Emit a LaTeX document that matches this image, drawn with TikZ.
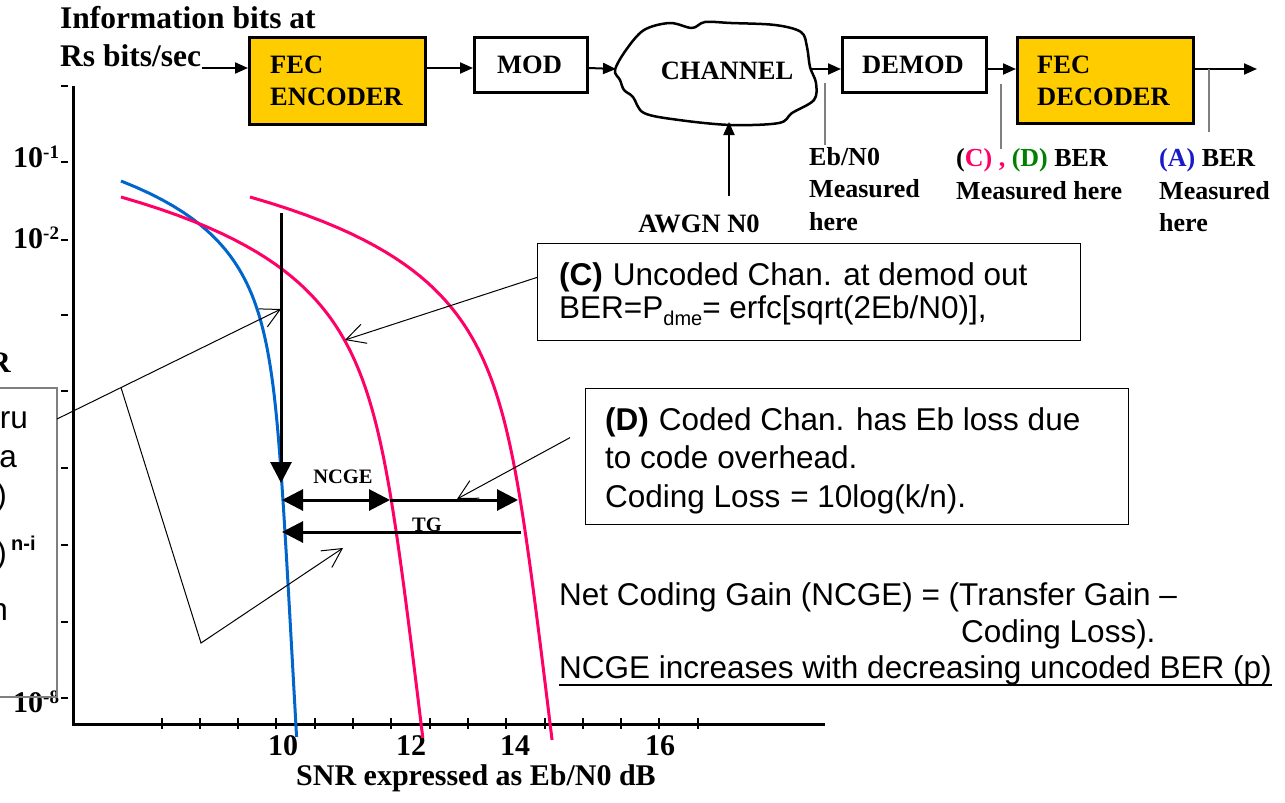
\documentclass[tikz,border=0pt]{standalone}
\usepackage{fontspec}
\setmainfont{Liberation Serif}
\setsansfont{Liberation Sans}
\usetikzlibrary{arrows.meta,calc}
\definecolor{fecy}{HTML}{FFCC00}
\definecolor{bluec}{HTML}{0066CC}
\definecolor{pinkc}{HTML}{FF0066}
\definecolor{greenc}{HTML}{008000}
\definecolor{labblue}{HTML}{1A1AC8}
\definecolor{lgray}{HTML}{7F7F7F}
\begin{document}
\begin{tikzpicture}[x=1pt,y=-1pt,
 blk/.style={draw, line width=2.5pt, inner sep=0pt, anchor=north west},
 blkT/.style={font=\fontsize{26.5}{30}\selectfont\bfseries, inner sep=0pt},
 topT/.style={font=\fontsize{31.5}{36}\selectfont\bfseries, inner sep=0pt, anchor=base west},
 lblT/.style={font=\fontsize{26}{30}\selectfont\bfseries, inner sep=0pt, anchor=base west},
 axT/.style={font=\fontsize{30}{34}\selectfont\bfseries, inner sep=0pt},
 smT/.style={font=\fontsize{20.5}{24}\selectfont\bfseries, inner sep=0pt, anchor=base},
 sansT/.style={font=\sffamily\fontsize{31.5}{36}\selectfont, inner sep=0pt, anchor=base west},
 flow/.style={line width=2pt, -{Triangle[length=13pt,width=11pt]}},
 meas/.style={line width=1.3pt, draw=lgray},
 axisL/.style={line width=3pt},
 curveB/.style={line width=3pt, draw=bluec},
 curveP/.style={line width=3pt, draw=pinkc},
 bigA/.style={line width=3pt, -{Triangle[length=21pt,width=21pt]}},
 bigAA/.style={line width=3pt, {Triangle[length=21pt,width=21pt]}-{Triangle[length=21pt,width=21pt]}},
 ptr/.style={line width=1pt, -{Straight Barb[length=19pt,width=20pt]}},
 cbox/.style={draw, line width=1.3pt, inner sep=0pt, anchor=north west},
]
\useasboundingbox (0,0) rectangle (1285,803);
\clip (0,0) rectangle (1285,803);

% ---------- block diagram ----------
\node[topT] (info1) at (60,28) {Information bits at};
\node[topT] (info2) at (60,66) {Rs bits/sec};

\node[blk, fill=fecy, minimum width=176pt, minimum height=87pt] (enc) at (248,36) {};
\node[blk, minimum width=113pt, minimum height=55pt] (mod) at (473,36) {};
\node[blk, minimum width=144pt, minimum height=55pt] (demod) at (841,36) {};
\node[blk, fill=fecy, minimum width=176pt, minimum height=86pt] (dec) at (1016,36) {};

\node[blkT, anchor=base west] (encA) at (270,73) {FEC};
\node[blkT, anchor=base west] (encB) at (270,105) {ENCODER};
\node[blkT, anchor=base] (modT) at (529.5,73) {MOD};
\node[blkT, anchor=base] (demT) at (913,73) {DEMOD};
\node[blkT, anchor=base west] (decA) at (1037,73) {FEC};
\node[blkT, anchor=base west] (decB) at (1037,105) {DECODER};

% channel cloud
\draw[line width=2.5pt, line join=round] plot[smooth cycle, tension=0.55] coordinates {
 (615,70) (626,50) (644,30) (670,23) (692,28) (705,22) (731,23) (775,25)
 (801,32) (807,47) (810,67) (816,83) (814,100) (792,113) (779,123)
 (731,125) (679,120) (644,113) (633,97) (624,90) (620,80)};
\node[blkT, anchor=base] (chT) at (727,79) {CHANNEL};
\coordinate (chL) at (616,69);
\coordinate (chR) at (810,69);
\coordinate (chB) at (729,122);

\coordinate (src) at (202,68);
\coordinate (out) at (1257,69);
\coordinate (awgn) at (729,196);
\draw[flow] (src) -- (src -| enc.west);
\draw[flow] (enc.east |- src) -- (mod.west |- src);
\draw[flow] (mod.east |- src) -- (chL);
\draw[flow] (chR) -- (chR -| demod.west);
\draw[flow] (demod.east |- chR) -- (dec.west |- chR);
\draw[flow] (dec.east |- out) -- (out);
\draw[flow] (awgn) -- (chB);
\node[blkT, anchor=base] (awgnT) at (699,232) {AWGN N0};

% measurement points
\coordinate (m1t) at (825,83);  \coordinate (m1b) at (825,145);
\coordinate (m2t) at (1001,84); \coordinate (m2b) at (1001,149);
\coordinate (m3t) at (1209,69); \coordinate (m3b) at (1209,132);
\draw[meas] (m1t) -- (m1b);
\draw[meas] (m2t) -- (m2b);
\draw[meas] (m3t) -- (m3b);

\node[lblT] (ebA) at (809,165) {Eb/N0};
\node[lblT] (ebB) at (809,197) {Measured};
\node[lblT] (ebC) at (809,230) {here};
\node[lblT] (cdA) at (956,166) {(\textcolor{pinkc}{C) ,} \textcolor{greenc}{(D)} BER};
\node[lblT] (cdB) at (956,199) {Measured here};
\node[lblT] (aA) at (1159,166) {\textcolor{labblue}{(A)} BER};
\node[lblT] (aB) at (1159,199) {Measured};
\node[lblT] (aC) at (1159,231) {here};

% ---------- graph ----------
\draw[axisL] (73,86) -- (73,724) -- (825,724);
\foreach \yy in {86,162,240,315,391,468,545,622,698}
  \draw[line width=2.5pt] (61,\yy) -- (68,\yy);
\foreach \i in {0,...,14}
  \draw[line width=2pt] ({161.5+38.3*\i},718) -- ({161.5+38.3*\i},729);

\node[axT, anchor=base west] (y1) at (13,167) {10\raisebox{9pt}{\fontsize{19}{20}\selectfont -1}};
\node[axT, anchor=base west] (y2) at (13,248) {10\raisebox{9pt}{\fontsize{19}{20}\selectfont -2}};
\node[axT, anchor=base west] (y8) at (13,712) {10\raisebox{9pt}{\fontsize{19}{20}\selectfont -8}};

\node[axT, anchor=base] (x10) at (283,755) {10};
\node[axT, anchor=base] (x12) at (411,755) {12};
\node[axT, anchor=base] (x14) at (515,755) {14};
\node[axT, anchor=base] (x16) at (660,755) {16};
\node[axT, anchor=base] (xlab) at (476,785) {SNR expressed as Eb/N0 dB};

% curves
\draw[curveB] plot[domain=181:737, samples=90, variable=\t]
  ({121+145*(1-exp(-(\t-181)/58))+0.055*(\t-181)}, {\t});
\draw[curveP] plot[domain=197:738, samples=90, variable=\t]
  ({121+237*(1-exp(-(\t-197)/70))+0.12*(\t-197)}, {\t});
\draw[curveP] plot[domain=197:740, samples=90, variable=\t]
  ({250+237*(1-exp(-(\t-197)/70))+0.12*(\t-197)}, {\t});

% gain arrows
\coordinate (vt) at (281,213); \coordinate (vb) at (281,483);
\coordinate (nL) at (282,500); \coordinate (nM) at (390,500); \coordinate (nR) at (518,500);
\coordinate (tR) at (521,532); \coordinate (tL) at (282,532);
\draw[bigA] (vt) -- (vb);
\draw[bigAA] (nL) -- (nM);
\draw[bigA] (nM) -- (nR);
\draw[bigA] (tR) -- (tL);
\node[smT] (ncgeT) at (343,483) {NCGE};
\node[smT] (tgT) at (427,531) {TG};

% ---------- callouts ----------
\node[cbox, minimum width=543pt, minimum height=97pt] (boxC) at (537,243) {};
\node[sansT] (cT1) at (559,285) {\textbf{(C)}\hspace{10pt}Uncoded Chan. at demod out};
\node[sansT] (cT2) at (559,318) {BER=P\raisebox{-7pt}{\fontsize{20}{20}\selectfont dme}= erfc[sqrt(2Eb/N0)],};
\coordinate (cS) at ($(boxC.north west)!0.35!(boxC.south west)$);
\coordinate (cP) at (345,340);
\draw[ptr] (cS) -- (cP);

\node[cbox, minimum width=543pt, minimum height=136pt] (boxD) at (585,388) {};
\node[sansT] (dT1) at (605,430) {\textbf{(D)}\hspace{10pt}Coded Chan. has Eb loss due};
\node[sansT] (dT2) at (605,468) {to code overhead.};
\node[sansT] (dT3) at (605,507) {Coding Loss\hspace{10pt}= 10log(k/n).};
\coordinate (dS) at ($(boxD.west)+(-15,-19)$);
\coordinate (dP) at (457,499);
\draw[ptr] (dS) -- (dP);

\node[sansT] (ncA) at (559,605) {Net Coding Gain (NCGE) = (Transfer Gain –};
\node[sansT] (ncB) at (961,642) {Coding Loss).};
\node[sansT] (ncC) at (559,678) {NCGE increases with decreasing uncoded BER (p)};
\draw[line width=2.4pt] ($(ncC.base west)+(0,7)$) -- ($(ncC.base east)+(0,7)$);

% left (cut-off) callout
\draw[line width=1.5pt, draw=lgray] (0,388) -- (57,388) -- (57,697) -- (0,697);
\node[axT, anchor=base east] (lR) at (11,372) {R};
\node[sansT, anchor=base east] (l1) at (28,428) {ru};
\node[sansT, anchor=base east] (l2) at (17,467) {a};
\node[sansT, anchor=base east] (l3) at (7,505) {)};
\node[sansT, anchor=base east] (l4) at (7,563) {)};
\node[font=\sffamily\bfseries\fontsize{20}{22}\selectfont, inner sep=0pt, anchor=base west] (l4s) at (11,550) {n-i};
\node[sansT, anchor=base east] (l5) at (8,620) {n};
\coordinate (lA) at (57,419);
\coordinate (lT1) at (281,309);
\coordinate (lB) at ($(lA)!0.2857!(lT1)$);
\coordinate (lK) at (201,643);
\coordinate (lT2) at (343,548);
\draw[ptr] (lA) -- (lT1);
\draw[ptr] (lB) -- (lK) -- (lT2);
\end{tikzpicture}
\end{document}
